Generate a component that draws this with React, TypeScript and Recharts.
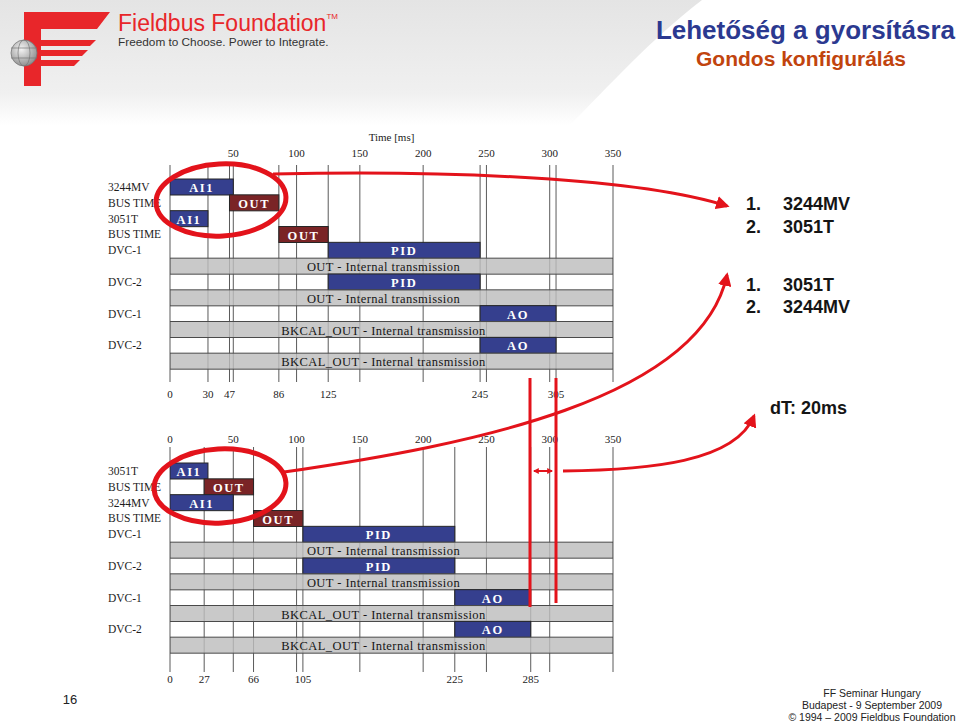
import React from 'react';
import { Bar, BarChart, CartesianGrid, XAxis, YAxis } from 'recharts';

// function blocks, same order in both schedules
const blockNames = [
  'AI1',
  'OUT',
  'AI1',
  'OUT',
  'PID',
  'OUT - Internal transmission',
  'PID',
  'OUT - Internal transmission',
  'AO',
  'BKCAL_OUT - Internal transmission',
  'AO',
  'BKCAL_OUT - Internal transmission',
];
const blockKinds = ['ai', 'bus', 'ai', 'bus', 'fb', 'int', 'fb', 'int', 'fb', 'int', 'fb', 'int'];

// upper schedule: 3244MV first
const topLabels = ['3244MV', 'BUS TIME', '3051T', 'BUS TIME', 'DVC-1', '', 'DVC-2', '', 'DVC-1', '', 'DVC-2', ''];
const topStarts = [0, 47, 0, 86, 125, 0, 125, 0, 245, 0, 245, 0];
const topEnds = [50, 86, 30, 125, 245, 350, 245, 350, 305, 350, 305, 350];
const topScaleTicks = [50, 100, 150, 200, 250, 300, 350];
const topEventTicks = [0, 30, 47, 86, 125, 245, 305];
const topGrid = [0, 30, 47, 50, 86, 100, 125, 150, 200, 245, 250, 300, 305, 350];

// lower schedule: 3051T first
const bottomLabels = ['3051T', 'BUS TIME', '3244MV', 'BUS TIME', 'DVC-1', '', 'DVC-2', '', 'DVC-1', '', 'DVC-2', ''];
const bottomStarts = [0, 27, 0, 66, 105, 0, 105, 0, 225, 0, 225, 0];
const bottomEnds = [30, 66, 50, 105, 225, 350, 225, 350, 285, 350, 285, 350];
const bottomScaleTicks = [0, 50, 100, 150, 200, 250, 300, 350];
const bottomEventTicks = [0, 27, 66, 105, 225, 285];
const bottomGrid = [0, 27, 50, 66, 100, 105, 150, 200, 225, 250, 285, 300, 350];

const serif = "'Liberation Serif', 'DejaVu Serif', serif";
const sans = "'Liberation Sans', Arial, sans-serif";
const narrow = "'Liberation Sans Narrow', 'Arial Narrow', 'Liberation Sans', sans-serif";

const buildRows = (starts: number[], ends: number[]) =>
  starts.map((s, i) => ({
    id: `r${i}`,
    offset: s,
    span: ends[i] - s,
    name: blockNames[i],
    kind: blockKinds[i],
  }));

const BlockShape = (props: any) => {
  const { x, y, width, height, payload } = props;
  if (!width || width <= 0) return null;
  const k = payload.kind;
  const isInt = k === 'int';
  const fill = k === 'bus' ? '#7a2426' : isInt ? '#bdbdbd' : '#353f8e';
  return (
    <g>
      <rect
        x={x}
        y={y}
        width={width}
        height={height}
        fill={fill}
        fillOpacity={isInt ? 0.82 : 1}
        stroke={isInt ? '#4a4a4a' : '#262626'}
        strokeWidth={1}
      />
      <text
        x={x + width / 2 + (isInt ? -8 : 0)}
        y={y + height / 2 + 1}
        textAnchor='middle'
        dominantBaseline='central'
        fill={isInt ? '#151515' : '#ffffff'}
        fontFamily={serif}
        fontSize={isInt ? 12.5 : 12.5}
        fontWeight={isInt ? 'normal' : 'bold'}
        letterSpacing={isInt ? 0.45 : 1.6}
      >
        {payload.name}
      </text>
    </g>
  );
};

const rowTick = (labels: string[]) => (p: any) => {
  const idx = Number(String(p.payload.value).slice(1));
  return (
    <text
      x={108}
      y={p.y}
      dominantBaseline='central'
      fontFamily={serif}
      fontSize={11.5}
      fill='#1e1e1e'
    >
      {labels[idx]}
    </text>
  );
};

const gridLine = (up: number, down: number) => (p: any) => (
  <line
    key={p.key}
    x1={p.x1}
    x2={p.x2}
    y1={p.y1 - up}
    y2={p.y2 + down}
    stroke='#5a5a5a'
    strokeWidth={1}
  />
);

const gridGen = (values: number[]) => ({ xAxis }: any) => {
  const s = xAxis.scale;
  return values.map((v) => (typeof s === 'function' ? s(v) : s.map(v)));
};

const tickStyle = { fontSize: 11, fill: '#222', fontFamily: serif };

const Schedule = ({
  labels,
  starts,
  ends,
  scaleTicks,
  eventTicks,
  grid,
  height,
  marginTop,
  marginBottom,
  topMargin,
  bottomMargin,
  ext,
  timeLabel,
}: any) => {
  const rows = buildRows(starts, ends);
  return (
    <BarChart
      width={960}
      height={height}
      data={rows}
      layout='vertical'
      barCategoryGap={0}
      margin={{ top: marginTop, right: 347, bottom: marginBottom, left: 100 }}
    >
      <CartesianGrid
        xAxisId='top'
        horizontal={false}
        vertical={gridLine(ext[0], ext[1])}
        verticalCoordinatesGenerator={gridGen(grid)}
      />
      <XAxis
        xAxisId='top'
        orientation='top'
        type='number'
        domain={[0, 350]}
        allowDataOverflow
        ticks={scaleTicks}
        interval={0}
        axisLine={false}
        tickLine={false}
        tickSize={0}
        tickMargin={topMargin}
        height={30}
        tick={tickStyle}
        label={
          timeLabel
            ? { value: 'Time [ms]', position: 'top', offset: 8, fontSize: 11, fill: '#222', fontFamily: serif }
            : undefined
        }
      />
      <XAxis
        xAxisId='bottom'
        orientation='bottom'
        type='number'
        domain={[0, 350]}
        allowDataOverflow
        ticks={eventTicks}
        interval={0}
        axisLine={false}
        tickLine={false}
        tickSize={0}
        tickMargin={bottomMargin}
        height={30}
        tick={tickStyle}
      />
      <YAxis
        type='category'
        dataKey='id'
        width={70}
        axisLine={false}
        tickLine={false}
        interval={0}
        tick={rowTick(labels)}
      />
      <Bar xAxisId='top' dataKey='offset' stackId='t' fill='transparent' isAnimationActive={false} />
      <Bar xAxisId='top' dataKey='span' stackId='t' shape={BlockShape} isAnimationActive={false} />
    </BarChart>
  );
};

const Header = () => (
  <svg width={960} height={130} style={{ position: 'absolute', left: 0, top: 0 }}>
    <defs>
      <linearGradient id='hdr' x1='0' y1='0' x2='0' y2='1'>
        <stop offset='0' stopColor='#e4e4e4' />
        <stop offset='0.75' stopColor='#f0f0f0' />
        <stop offset='1' stopColor='#ffffff' />
      </linearGradient>
      <radialGradient id='globe' cx='0.4' cy='0.35' r='0.7'>
        <stop offset='0' stopColor='#f4f4f4' />
        <stop offset='1' stopColor='#8a8a8a' />
      </radialGradient>
    </defs>
    <path d='M0,0 H702 C650,40 610,85 570,125 H0 Z' fill='url(#hdr)' />
    <path d='M24,12 H110 L97,29 H41 V86 H24 Z' fill='#e8262a' />
    <path d='M30,40 H96 L90,46 H30 Z' fill='#e8262a' />
    <path d='M30,50 H88 L82,56 H30 Z' fill='#e8262a' />
    <path d='M30,60 H80 L74,66 H30 Z' fill='#e8262a' />
    <circle cx={24} cy={53} r={13} fill='url(#globe)' stroke='#777' strokeWidth={0.8} />
    <ellipse cx={24} cy={53} rx={6} ry={13} fill='none' stroke='#777' strokeWidth={0.7} />
    <line x1={11} y1={48} x2={37} y2={48} stroke='#777' strokeWidth={0.7} />
    <line x1={11} y1={58} x2={37} y2={58} stroke='#777' strokeWidth={0.7} />
    <text x={118} y={31} fontFamily={sans} fontSize={23} fill='#e8262a'>
      Fieldbus Foundation
      <tspan fontSize={8} dy={-12}>
        TM
      </tspan>
    </text>
    <text x={118} y={46} fontFamily={sans} fontSize={11.8} fill='#333'>
      Freedom to Choose.  Power to Integrate.
    </text>
    <text x={955} y={39} textAnchor='end' fontFamily={narrow} fontWeight='bold' fontSize={26} fill='#2b3990'>
      Lehetőség a gyorsításra
    </text>
    <text x={801} y={66} textAnchor='middle' fontFamily={narrow} fontWeight='bold' fontSize={21} fill='#c1440e'>
      Gondos konfigurálás
    </text>
  </svg>
);

const red = '#e3131b';

const Annotations = () => (
  <svg width={960} height={724} style={{ position: 'absolute', left: 0, top: 0, pointerEvents: 'none' }}>
    <defs>
      <marker id='ah' viewBox='0 0 10 10' refX='8' refY='5' markerWidth='4.5' markerHeight='4.5' orient='auto'>
        <path d='M0,0 L10,5 L0,10 Z' fill={red} />
      </marker>
      <marker id='sm' viewBox='0 0 10 10' refX='8' refY='5' markerWidth='3' markerHeight='3' orient='auto-start-reverse'>
        <path d='M0,0 L10,5 L0,10 Z' fill={red} />
      </marker>
    </defs>
    <ellipse cx={221} cy={200} rx={65} ry={36} transform='rotate(-3 221 200)' fill='none' stroke={red} strokeWidth={5} />
    <ellipse cx={220} cy={486} rx={66} ry={37} transform='rotate(-3 220 486)' fill='none' stroke={red} strokeWidth={5} />
    <path d='M273,174 C450,170 640,178 727,206' fill='none' stroke={red} strokeWidth={3} markerEnd='url(#ah)' />
    <path d='M284,472 C470,445 700,400 727,275' fill='none' stroke={red} strokeWidth={3} markerEnd='url(#ah)' />
    <path d='M563,471 C650,470 735,462 754,416' fill='none' stroke={red} strokeWidth={3} markerEnd='url(#ah)' />
    <line x1={530} y1={378} x2={530} y2={607} stroke={red} strokeWidth={3} />
    <line x1={556} y1={378} x2={556} y2={603} stroke={red} strokeWidth={3} />
    <line x1={534} y1={471} x2={552} y2={471} stroke={red} strokeWidth={2} markerStart='url(#sm)' markerEnd='url(#sm)' />
  </svg>
);

const listText = { fontFamily: sans, fontSize: 18, fontWeight: 'bold', fill: '#151515' } as const;

const SideText = () => (
  <svg width={960} height={724} style={{ position: 'absolute', left: 0, top: 0, pointerEvents: 'none' }}>
    <text x={746} y={210} {...listText}>1.</text>
    <text x={783} y={210} {...listText}>3244MV</text>
    <text x={746} y={233} {...listText}>2.</text>
    <text x={783} y={233} {...listText}>3051T</text>
    <text x={746} y={291} {...listText}>1.</text>
    <text x={783} y={291} {...listText}>3051T</text>
    <text x={746} y={313} {...listText}>2.</text>
    <text x={783} y={313} {...listText}>3244MV</text>
    <text x={770} y={414} {...listText}>dT: 20ms</text>
    <text x={70} y={704} textAnchor='middle' fontFamily={sans} fontSize={13} fill='#222'>16</text>
    <text x={872} y={697} textAnchor='middle' fontFamily={sans} fontSize={10.5} fill='#222'>FF Seminar Hungary</text>
    <text x={872} y={709} textAnchor='middle' fontFamily={sans} fontSize={10.5} fill='#222'>Budapest - 9 September 2009</text>
    <text x={872} y={721} textAnchor='middle' fontFamily={sans} fontSize={10.5} fill='#222'>© 1994 – 2009 Fieldbus Foundation</text>
  </svg>
);

export default function App() {
  return (
    <div style={{ position: 'absolute', left: 0, top: 0, width: 960, height: 724, background: '#fff', overflow: 'hidden' }}>
      <Header />
      <div style={{ position: 'absolute', left: 0, top: 130 }}>
        <Schedule
          labels={topLabels}
          starts={topStarts}
          ends={topEnds}
          scaleTicks={topScaleTicks}
          eventTicks={topEventTicks}
          grid={topGrid}
          height={280}
          marginTop={19}
          marginBottom={11}
          topMargin={22}
          bottomMargin={21}
          ext={[14, 13]}
          timeLabel
        />
      </div>
      <div style={{ position: 'absolute', left: 0, top: 415 }}>
        <Schedule
          labels={bottomLabels}
          starts={bottomStarts}
          ends={bottomEnds}
          scaleTicks={bottomScaleTicks}
          eventTicks={bottomEventTicks}
          grid={bottomGrid}
          height={275}
          marginTop={18}
          marginBottom={7}
          topMargin={20}
          bottomMargin={22}
          ext={[16, 19]}
        />
      </div>
      <SideText />
      <Annotations />
    </div>
  );
}
